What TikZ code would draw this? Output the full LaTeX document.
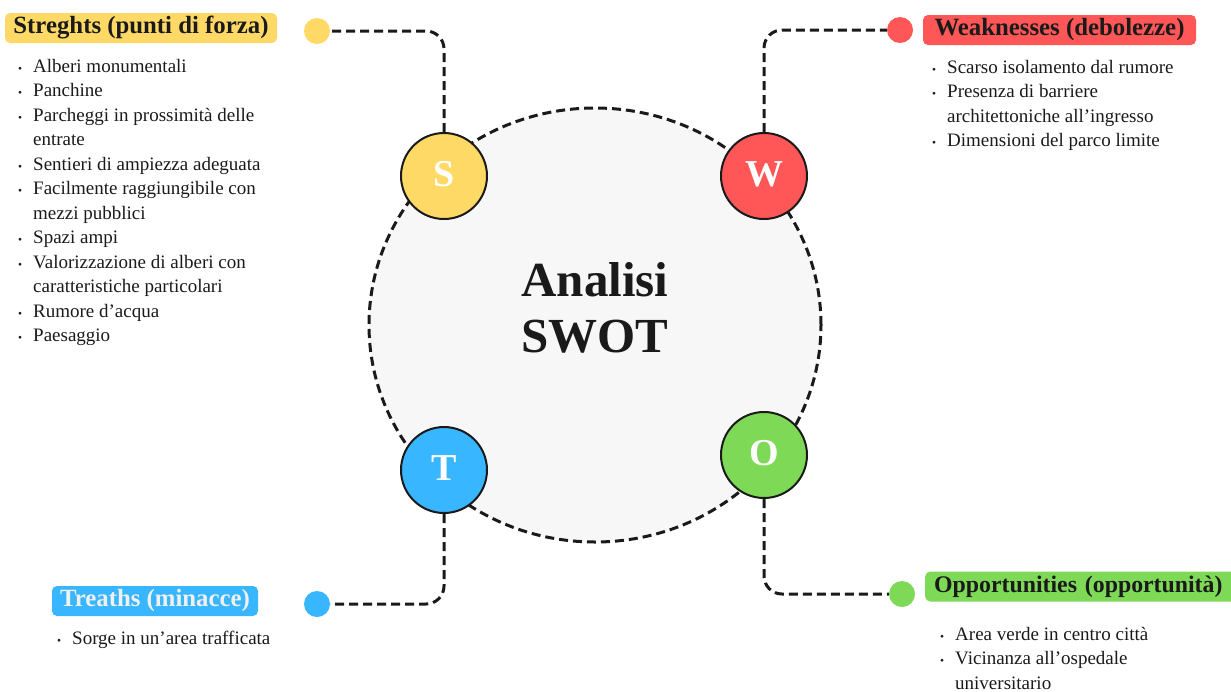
\documentclass[tikz,border=0pt]{standalone}
\usepackage{fontspec}
\setmainfont{Liberation Serif}
\usetikzlibrary{shapes.geometric}

\definecolor{ink}{HTML}{1A1A1A}
\definecolor{core}{HTML}{F7F7F7}
\definecolor{swS}{HTML}{FFD966}
\definecolor{swW}{HTML}{FF5757}
\definecolor{swT}{HTML}{38B6FF}
\definecolor{swO}{HTML}{7ED957}

% list lines: bulleted item and its continuation line
\newcommand\switem[1]{\hbox{\makebox[15pt][l]{\scalebox{0.6}{\textbullet}}#1}}
\newcommand\swcont[1]{\hbox{\hspace*{15pt}#1}}

\begin{document}
\begin{tikzpicture}[x=1pt,y=-1pt,
  dashln/.style={draw=ink, line width=3pt, dash pattern=on 9pt off 5pt},
  letter/.style={circle, draw=ink, line width=2pt, minimum size=86pt, inner sep=0pt,
    text=white, font=\fontsize{38}{40}\selectfont\bfseries},
  dot/.style={circle, minimum size=26pt, inner sep=0pt},
  head/.style={rounded corners=5pt, minimum height=30pt, inner sep=0pt,
    font=\fontsize{24.8}{28}\selectfont\bfseries, text=ink},
  list/.style={anchor=base west, inner sep=0pt, text=ink,
    font=\fontsize{19}{24.5}\selectfont}]
\useasboundingbox (0,0) rectangle (1231,691);

% central disc
\node[ellipse, fill=core, dashln, minimum width=452pt, minimum height=434pt,
  inner sep=0pt] (hub) at (595,325) {};
\node[font=\fontsize{49}{56}\selectfont\bfseries, align=center, text=ink]
  (title) at (595,308) {Analisi\\SWOT};

% four letter discs
\node[letter, fill=swS] (S) at (444,176) {\raisebox{4pt}{S}};
\node[letter, fill=swW] (W) at (764,176) {\raisebox{4pt}{W}};
\node[letter, fill=swT] (T) at (444,470) {\raisebox{4pt}{T}};
\node[letter, fill=swO] (O) at (764,455) {\raisebox{4pt}{O}};

% end dots (placed first so the connectors can aim at them)
\node[dot] (sd) at (317,31) {};
\node[dot] (wd) at (900,30) {};
\node[dot] (td) at (317,604) {};
\node[dot] (od) at (902,594) {};

% connectors
\draw[dashln, rounded corners=18pt] (S.north) |- (sd.east);
\draw[dashln, rounded corners=18pt] (W.north) |- (wd.west);
\draw[dashln, rounded corners=18pt] (T.south) |- (td.east);
\draw[dashln, rounded corners=18pt] (O.south) |- (od.west);

% coloured dots above the connector ends
\fill[swS] (sd) circle[radius=13pt];
\fill[swW] (wd) circle[radius=13pt];
\fill[swT] (td) circle[radius=13pt];
\fill[swO] (od) circle[radius=13pt];

% headings
\node[head, fill=swS, minimum width=272pt] (sh) at (141,28) {Streghts (punti di forza)};
\node[head, fill=swW, minimum width=273pt] (wh) at (1059.5,30) {Weaknesses (debolezze)};
\node[head, fill=swT, minimum width=206pt, text=white!94!black] (th) at (155,601) {Treaths (minacce)};
\node[head, fill=swO, anchor=west, text width=360pt, align=left, inner xsep=9pt,
  font=\fontsize{23.8}{28}\selectfont\bfseries]
  (oh) at (925,586.5) {Opportunities (opportunità)};

% lists
\node[list] (sl) at (18,72) {\vtop{%
  \switem{Alberi monumentali}
  \switem{Panchine}
  \switem{Parcheggi in prossimità delle}
  \swcont{entrate}
  \switem{Sentieri di ampiezza adeguata}
  \switem{Facilmente raggiungibile con}
  \swcont{mezzi pubblici}
  \switem{Spazi ampi}
  \switem{Valorizzazione di alberi con}
  \swcont{caratteristiche particolari}
  \switem{Rumore d’acqua}
  \switem{Paesaggio}}};
\node[list] (wl) at (932,73) {\vtop{%
  \switem{Scarso isolamento dal rumore}
  \switem{Presenza di barriere}
  \swcont{architettoniche all’ingresso}
  \switem{Dimensioni del parco limite}}};
\node[list] (tl) at (57,644) {\vtop{%
  \switem{Sorge in un’area trafficata}}};
\node[list] (ol) at (940,640) {\vtop{%
  \switem{Area verde in centro città}
  \switem{Vicinanza all’ospedale}
  \swcont{universitario}}};
\end{tikzpicture}
\end{document}
